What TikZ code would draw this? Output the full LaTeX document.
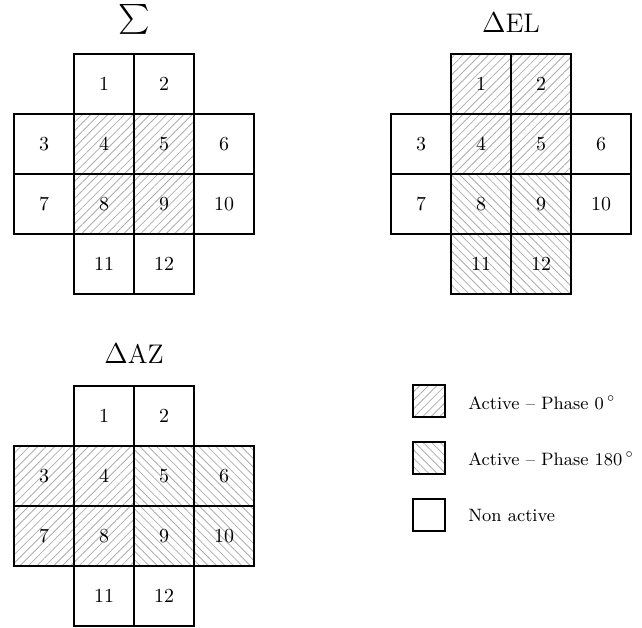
\documentclass[tikz,border=0pt]{standalone}
\usetikzlibrary{patterns.meta}
\tikzset{
  cell/.style={draw, line width=0.8pt, minimum size=30bp, inner sep=0pt, font=\fontsize{10}{12}\selectfont},
  nonact/.style={},
  ph0/.style={pattern={Lines[angle=45,distance=3pt,line width=0.4pt]}, pattern color=black!32},
  ph180/.style={pattern={Lines[angle=-45,distance=3pt,line width=0.4pt]}, pattern color=black!32},
  title/.style={font=\fontsize{13.5}{16}\selectfont, anchor=base, inner sep=0pt},
  legbox/.style={draw, line width=0.8pt, minimum size=16bp, inner sep=0pt},
  legtext/.style={anchor=base west, inner sep=0pt, font=\fontsize{9}{11}\selectfont},
}
\begin{document}
\begin{tikzpicture}[x=0.5bp,y=-0.5bp]
\useasboundingbox (0,0) rectangle (642,628);
% Sigma grid
\node[inner sep=0pt] (tS) at (134,19.5) {\scalebox{1.5}{$\textstyle\sum$}};
\foreach \n/\c/\r/\s in {1/2/1/nonact,2/3/1/nonact,3/1/2/nonact,4/2/2/ph0,5/3/2/ph0,6/4/2/nonact,7/1/3/nonact,8/2/3/ph0,9/3/3/ph0,10/4/3/nonact,11/2/4/nonact,12/3/4/nonact}
  \node[cell,\s] (s\n) at ({44+60*(\c-1)},{84+60*(\r-1)}) {\n};
% Delta EL grid
\node[title] (tE) at (511,33) {$\Delta$EL};
\foreach \n/\c/\r/\s in {1/2/1/ph0,2/3/1/ph0,3/1/2/nonact,4/2/2/ph0,5/3/2/ph0,6/4/2/nonact,7/1/3/nonact,8/2/3/ph180,9/3/3/ph180,10/4/3/nonact,11/2/4/ph180,12/3/4/ph180}
  \node[cell,\s] (e\n) at ({421+60*(\c-1)},{84+60*(\r-1)}) {\n};
% Delta AZ grid
\node[title] (tA) at (134,363) {$\Delta$AZ};
\foreach \n/\c/\r/\s in {1/2/1/nonact,2/3/1/nonact,3/1/2/ph0,4/2/2/ph0,5/3/2/ph180,6/4/2/ph180,7/1/3/ph0,8/2/3/ph0,9/3/3/ph180,10/4/3/ph180,11/2/4/nonact,12/3/4/nonact}
  \node[cell,\s] (a\n) at ({44+60*(\c-1)},{416+60*(\r-1)}) {\n};
% Legend
\node[legbox,ph0] (l0) at (429,401) {};
\node[legtext] (l0t) at (468,409) {Active -- Phase 0\,$^\circ$};
\node[legbox,ph180] (l1) at (429,458) {};
\node[legtext] (l1t) at (468,465) {Active -- Phase 180\,$^\circ$};
\node[legbox] (l2) at (429,515) {};
\node[legtext] (l2t) at (468,521) {Non active};
\end{tikzpicture}
\end{document}
